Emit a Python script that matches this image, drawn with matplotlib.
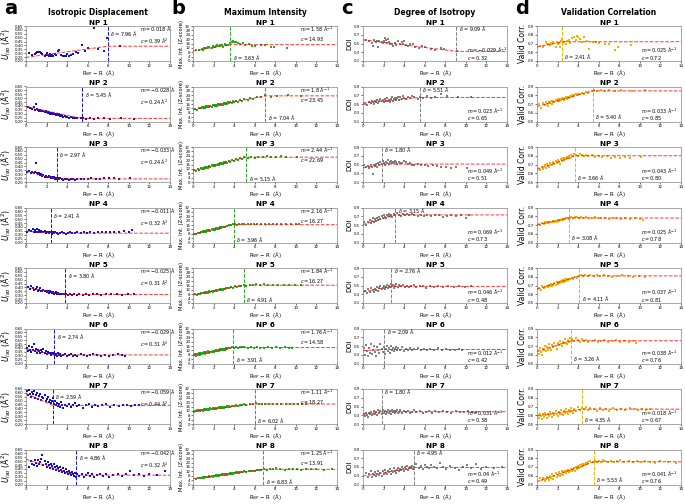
import matplotlib.pyplot as plt

# R_np - R (Å) for the atoms of each NP, shared by the four metrics
x_np1 = [0.3, 0.6, 0.9, 1.0, 1.1, 1.3, 1.4, 1.5, 1.6, 1.8, 1.9, 2.0, 2.1, 2.2, 2.3, 2.4, 2.5, 2.6, 2.8, 2.9,
         3.1, 3.2, 3.4, 3.6, 3.8, 3.9, 4.0, 4.2, 4.4, 4.6, 4.9, 5.1, 5.4, 5.7, 6.0, 6.6, 7.0, 7.6, 7.9, 9.1]
x_np2 = [0.2, 0.4, 0.6, 0.8, 0.9, 1.0, 1.1, 1.2, 1.3, 1.4, 1.5, 1.6, 1.7, 1.8, 1.9, 2.0, 2.1, 2.2, 2.3, 2.4,
         2.5, 2.6, 2.7, 2.8, 2.9, 3.0, 3.1, 3.2, 3.3, 3.4, 3.5, 3.6, 3.8, 3.9, 4.0, 4.2, 4.4, 4.6, 4.8, 5.0,
         5.3, 5.5, 5.8, 6.2, 6.6, 7.0, 7.6, 8.2, 9.2, 10.5]
x_np3 = [0.1, 0.3, 0.5, 0.6, 0.8, 0.9, 1.0, 1.1, 1.2, 1.3, 1.4, 1.5, 1.6, 1.7, 1.8, 1.9, 2.0, 2.1, 2.2, 2.3,
         2.4, 2.5, 2.6, 2.7, 2.8, 2.9, 3.0, 3.1, 3.2, 3.3, 3.5, 3.6, 3.8, 4.0, 4.2, 4.4, 4.6, 4.8, 5.0, 5.3,
         5.6, 6.0, 6.3, 6.8, 7.2, 7.6, 8.1, 8.6, 9.0, 10.1]
x_np4 = [0.1, 0.3, 0.5, 0.7, 0.8, 0.9, 1.0, 1.1, 1.2, 1.3, 1.4, 1.5, 1.6, 1.7, 1.8, 1.9, 2.0, 2.1, 2.2, 2.3,
         2.4, 2.5, 2.6, 2.7, 2.8, 3.0, 3.1, 3.3, 3.5, 3.7, 3.9, 4.1, 4.3, 4.5, 4.8, 5.0, 5.3, 5.6, 5.9, 6.2,
         6.6, 7.0, 7.4, 7.8, 8.2, 8.6, 9.0, 9.5, 10.3, 10.0]
x_np5 = [0.2, 0.4, 0.5, 0.7, 0.8, 1.0, 1.1, 1.2, 1.3, 1.4, 1.5, 1.6, 1.7, 1.8, 1.9, 2.0, 2.1, 2.2, 2.3, 2.4,
         2.5, 2.6, 2.7, 2.8, 2.9, 3.0, 3.1, 3.2, 3.4, 3.5, 3.7, 3.9, 4.1, 4.3, 4.5, 4.7, 5.0, 5.2, 5.5, 5.8,
         6.1, 6.5, 6.9, 7.3, 7.8, 8.3, 8.8, 9.3, 9.9, 10.5]
x_np6 = [0.1, 0.2, 0.3, 0.4, 0.5, 0.6, 0.7, 0.8, 0.9, 1.0, 1.1, 1.2, 1.3, 1.4, 1.5, 1.6, 1.7, 1.8, 1.9, 2.0,
         2.1, 2.2, 2.3, 2.4, 2.5, 2.6, 2.7, 2.8, 2.9, 3.0, 3.1, 3.2, 3.3, 3.4, 3.6, 3.8, 4.0, 4.2, 4.4, 4.6,
         4.8, 5.0, 5.3, 5.6, 5.9, 6.2, 6.5, 6.9, 7.3, 7.7, 8.1, 8.5, 8.9, 9.3, 9.6]
x_np7 = [0.1, 0.2, 0.3, 0.4, 0.5, 0.6, 0.7, 0.8, 0.9, 1.0, 1.1, 1.2, 1.3, 1.4, 1.5, 1.6, 1.7, 1.8, 1.9, 2.0,
         2.1, 2.2, 2.3, 2.4, 2.5, 2.6, 2.7, 2.8, 2.9, 3.0, 3.1, 3.2, 3.3, 3.4, 3.5, 3.6, 3.8, 4.0, 4.2, 4.4,
         4.6, 4.8, 5.0, 5.2, 5.5, 5.8, 6.1, 6.4, 6.7, 7.0, 7.4, 7.8, 8.2, 8.6, 9.0, 9.4, 9.8, 10.2, 10.6, 11.0]
x_np8 = [0.3, 0.5, 0.6, 0.8, 0.9, 1.0, 1.1, 1.2, 1.3, 1.4, 1.5, 1.6, 1.7, 1.8, 1.9, 2.0, 2.1, 2.2, 2.3, 2.4,
         2.5, 2.6, 2.7, 2.8, 2.9, 3.0, 3.1, 3.2, 3.3, 3.4, 3.5, 3.6, 3.7, 3.8, 3.9, 4.0, 4.1, 4.2, 4.3, 4.4,
         4.5, 4.6, 4.7, 4.8, 4.9, 5.0, 5.2, 5.4, 5.6, 5.8, 6.0, 6.2, 6.4, 6.6, 6.9, 7.2, 7.5, 7.8, 8.1, 8.5,
         8.9, 9.3, 9.7, 10.1, 10.5, 11.0, 11.5, 12.0, 12.7, 13.5]

# a) isotropic displacement U_iso (Å^2)
uiso_np1 = [0.30, 0.28, 0.29, 0.30, 0.31, 0.31, 0.32, 0.30, 0.29, 0.27, 0.28, 0.30, 0.28, 0.27, 0.29, 0.26, 0.28, 0.27, 0.29, 0.28,
            0.33, 0.34, 0.28, 0.27, 0.26, 0.27, 0.29, 0.27, 0.28, 0.29, 0.31, 0.30, 0.41, 0.33, 0.37, 0.63, 0.36, 0.33, 0.50, 0.39]
uiso_np2 = [0.38, 0.37, 0.36, 0.38, 0.35, 0.42, 0.36, 0.35, 0.34, 0.35, 0.34, 0.33, 0.34, 0.32, 0.33, 0.32, 0.31, 0.32, 0.30, 0.31,
            0.30, 0.31, 0.29, 0.30, 0.28, 0.29, 0.28, 0.29, 0.27, 0.28, 0.27, 0.26, 0.27, 0.26, 0.26, 0.25, 0.26, 0.25, 0.24, 0.25,
            0.24, 0.25, 0.23, 0.24, 0.23, 0.24, 0.24, 0.23, 0.24, 0.23]
uiso_np3 = [0.33, 0.34, 0.32, 0.33, 0.31, 0.33, 0.45, 0.32, 0.30, 0.31, 0.29, 0.30, 0.28, 0.29, 0.27, 0.28, 0.27, 0.26, 0.28, 0.26,
            0.25, 0.27, 0.25, 0.26, 0.24, 0.25, 0.24, 0.25, 0.24, 0.25, 0.24, 0.23, 0.24, 0.24, 0.23, 0.24, 0.24, 0.23, 0.24, 0.24,
            0.24, 0.24, 0.25, 0.24, 0.24, 0.25, 0.25, 0.25, 0.24, 0.25]
uiso_np4 = [0.34, 0.36, 0.35, 0.37, 0.34, 0.36, 0.33, 0.37, 0.34, 0.36, 0.33, 0.35, 0.34, 0.33, 0.35, 0.32, 0.34, 0.33, 0.32, 0.34,
            0.33, 0.31, 0.33, 0.32, 0.33, 0.32, 0.31, 0.32, 0.33, 0.32, 0.31, 0.32, 0.33, 0.32, 0.32, 0.33, 0.32, 0.33, 0.32, 0.33,
            0.32, 0.33, 0.34, 0.33, 0.33, 0.34, 0.33, 0.35, 0.36, 0.34]
uiso_np5 = [0.40, 0.38, 0.42, 0.39, 0.37, 0.38, 0.40, 0.36, 0.37, 0.39, 0.36, 0.35, 0.37, 0.35, 0.36, 0.34, 0.35, 0.33, 0.35, 0.34,
            0.33, 0.34, 0.32, 0.33, 0.34, 0.32, 0.33, 0.31, 0.32, 0.31, 0.32, 0.31, 0.30, 0.31, 0.30, 0.31, 0.30, 0.31, 0.30, 0.31,
            0.30, 0.31, 0.31, 0.30, 0.31, 0.32, 0.31, 0.30, 0.31, 0.32]
uiso_np6 = [0.40, 0.36, 0.43, 0.38, 0.35, 0.41, 0.37, 0.45, 0.36, 0.39, 0.34, 0.38, 0.36, 0.33, 0.37, 0.35, 0.39, 0.34, 0.36, 0.32,
            0.35, 0.33, 0.34, 0.31, 0.33, 0.32, 0.34, 0.31, 0.32, 0.30, 0.33, 0.31, 0.32, 0.30, 0.31, 0.32, 0.30, 0.31, 0.32, 0.30,
            0.31, 0.30, 0.32, 0.31, 0.30, 0.31, 0.32, 0.31, 0.30, 0.31, 0.30, 0.31, 0.32, 0.31, 0.30]
uiso_np7 = [0.62, 0.57, 0.64, 0.59, 0.55, 0.61, 0.58, 0.63, 0.54, 0.57, 0.60, 0.52, 0.56, 0.59, 0.51, 0.55, 0.53, 0.57, 0.49, 0.52,
            0.55, 0.48, 0.51, 0.47, 0.50, 0.53, 0.46, 0.49, 0.44, 0.47, 0.43, 0.46, 0.42, 0.48, 0.44, 0.41, 0.45, 0.43, 0.46, 0.42,
            0.44, 0.47, 0.43, 0.45, 0.41, 0.44, 0.46, 0.42, 0.45, 0.43, 0.44, 0.46, 0.42, 0.45, 0.43, 0.44, 0.45, 0.43, 0.44, 0.45]
uiso_np8 = [0.43, 0.50, 0.47, 0.45, 0.52, 0.48, 0.44, 0.51, 0.46, 0.49, 0.53, 0.58, 0.45, 0.50, 0.47, 0.43, 0.49, 0.45, 0.41, 0.47,
            0.44, 0.40, 0.46, 0.42, 0.39, 0.44, 0.41, 0.37, 0.43, 0.39, 0.36, 0.41, 0.38, 0.35, 0.40, 0.36, 0.33, 0.38, 0.35, 0.32,
            0.36, 0.33, 0.31, 0.35, 0.30, 0.33, 0.31, 0.34, 0.30, 0.32, 0.35, 0.31, 0.33, 0.30, 0.32, 0.34, 0.31, 0.33, 0.30, 0.32,
            0.34, 0.31, 0.33, 0.38, 0.32, 0.34, 0.31, 0.33, 0.32, 0.37]

# b) maximum intensity (Z-score)
maxint_np1 = [10.0, 10.5, 11.0, 10.5, 11.5, 12.0, 11.5, 12.5, 13.0, 12.0, 13.5, 12.5, 13.0, 14.0, 14.5, 13.5, 14.0, 15.0, 14.5, 13.0,
              15.5, 14.5, 15.0, 16.5, 17.0, 18.0, 17.5, 17.0, 16.5, 16.0, 16.5, 15.0, 15.5, 14.0, 13.5, 14.5, 15.0, 12.5, 13.0, 11.5]
maxint_np2 = [11.5, 10.8, 12.5, 11.9, 13.0, 12.2, 13.4, 12.6, 13.8, 12.9, 14.0, 13.2, 14.5, 13.6, 14.8, 15.3, 14.2, 15.2, 14.4, 15.8,
              14.9, 16.0, 15.2, 16.3, 15.5, 16.8, 15.9, 17.0, 16.2, 17.4, 16.6, 17.8, 17.1, 18.3, 17.6, 18.9, 18.2, 19.6, 19.0, 20.3,
              19.8, 21.2, 20.6, 22.3, 22.0, 23.9, 22.8, 23.0, 24.4, 23.6]
maxint_np3 = [10.8, 10.2, 11.6, 11.0, 12.4, 11.8, 13.0, 12.3, 13.5, 12.7, 14.0, 13.2, 14.6, 13.8, 15.1, 14.3, 15.6, 14.7, 16.0, 15.2,
              16.5, 15.8, 17.1, 16.2, 17.6, 16.8, 18.0, 17.3, 18.5, 17.8, 19.2, 18.4, 19.9, 19.3, 21.0, 20.1, 21.8, 21.1, 22.5, 22.0,
              23.3, 22.2, 23.0, 22.5, 23.4, 22.7, 22.9, 23.5, 22.6, 23.1]
maxint_np4 = [8.2, 7.6, 9.1, 8.7, 9.9, 9.2, 10.4, 9.7, 10.8, 10.0, 11.2, 10.5, 11.7, 10.9, 12.1, 11.4, 12.6, 11.8, 13.0, 12.3,
              13.4, 12.8, 13.9, 13.2, 14.3, 14.6, 13.9, 15.2, 15.6, 16.1, 16.6, 16.9, 16.4, 17.0, 16.6, 17.2, 16.8, 17.3, 16.9, 17.1,
              16.8, 17.2, 16.9, 16.6, 17.0, 16.7, 16.5, 16.8, 16.6, 16.9]
maxint_np5 = [7.9, 7.4, 8.6, 8.2, 9.0, 9.4, 8.8, 9.8, 9.2, 10.2, 9.6, 10.6, 10.0, 11.0, 10.3, 11.3, 10.7, 11.6, 11.0, 12.0,
              11.5, 12.4, 11.8, 12.8, 12.2, 13.2, 12.6, 13.6, 13.9, 13.3, 14.5, 14.1, 15.2, 14.6, 15.9, 15.3, 16.6, 16.0, 16.9, 16.4,
              17.2, 16.6, 17.0, 16.5, 16.9, 16.4, 16.7, 16.2, 16.6, 16.4]
maxint_np6 = [7.5, 8.6, 7.2, 8.9, 8.1, 9.4, 8.0, 9.6, 8.9, 9.2, 10.3, 9.1, 10.1, 9.5, 11.0, 10.0, 10.8, 10.5, 11.6, 10.6,
              11.2, 12.1, 11.0, 12.3, 11.8, 12.9, 12.0, 13.1, 12.5, 13.6, 12.8, 13.9, 13.3, 14.4, 14.0, 15.0, 14.6, 15.3, 14.4, 15.1,
              14.7, 15.4, 14.5, 14.9, 14.3, 15.2, 14.6, 14.1, 14.8, 14.4, 14.9, 14.3, 14.7, 14.2, 14.5]
maxint_np7 = [11.2, 12.3, 11.5, 12.6, 11.9, 12.8, 11.7, 12.5, 13.0, 12.2, 13.3, 12.6, 13.6, 12.8, 13.9, 13.1, 14.2, 13.4, 14.4, 13.6,
              14.7, 13.9, 15.0, 14.2, 15.2, 14.4, 15.5, 14.7, 15.7, 15.0, 16.0, 15.3, 16.2, 15.5, 16.5, 15.8, 16.8, 16.2, 17.1, 16.6,
              17.6, 17.0, 17.9, 17.4, 18.2, 17.9, 18.8, 18.0, 18.6, 17.9, 18.5, 18.0, 18.7, 18.1, 18.4, 18.0, 18.6, 18.2, 18.5, 18.3]
maxint_np8 = [5.2, 6.1, 5.6, 6.4, 5.9, 6.8, 6.2, 7.0, 6.5, 7.2, 6.7, 7.5, 6.9, 7.8, 7.2, 8.1, 7.5, 8.3, 7.7, 8.6,
              8.0, 8.9, 8.3, 9.2, 8.6, 9.4, 8.9, 9.7, 9.1, 10.0, 9.4, 10.2, 9.7, 10.5, 10.0, 10.8, 10.2, 11.0, 10.5, 11.3,
              10.8, 11.5, 11.0, 11.8, 11.2, 12.0, 11.7, 12.4, 12.1, 12.8, 12.4, 13.2, 12.9, 13.6, 14.3, 13.5, 14.6, 13.8, 15.2, 14.0,
              13.6, 14.4, 13.8, 14.2, 13.7, 14.5, 13.9, 14.1, 13.6, 13.8]

# c) degree of isotropy
doi_np1 = [0.57, 0.55, 0.52, 0.45, 0.57, 0.54, 0.55, 0.43, 0.56, 0.53, 0.51, 0.55, 0.63, 0.58, 0.52, 0.60, 0.54, 0.50, 0.48, 0.45,
           0.52, 0.47, 0.55, 0.50, 0.53, 0.49, 0.56, 0.46, 0.44, 0.49, 0.50, 0.43, 0.40, 0.45, 0.41, 0.38, 0.36, 0.40, 0.37, 0.33]
doi_np2 = [0.50, 0.47, 0.55, 0.52, 0.58, 0.54, 0.50, 0.57, 0.55, 0.60, 0.53, 0.58, 0.62, 0.56, 0.59, 0.54, 0.61, 0.58, 0.63, 0.57,
           0.60, 0.55, 0.62, 0.66, 0.58, 0.61, 0.64, 0.59, 0.63, 0.67, 0.60, 0.65, 0.62, 0.68, 0.64, 0.61, 0.66, 0.63, 0.69, 0.65,
           0.62, 0.67, 0.64, 0.68, 0.63, 0.66, 0.72, 0.68, 0.67, 0.66]
doi_np3 = [0.48, 0.44, 0.46, 0.41, 0.49, 0.45, 0.28, 0.50, 0.47, 0.52, 0.45, 0.53, 0.49, 0.55, 0.51, 0.57, 0.53, 0.48, 0.56, 0.54,
           0.60, 0.52, 0.55, 0.57, 0.53, 0.56, 0.54, 0.58, 0.55, 0.52, 0.56, 0.53, 0.54, 0.58, 0.55, 0.51, 0.53, 0.50, 0.49, 0.51,
           0.48, 0.50, 0.47, 0.48, 0.46, 0.45, 0.44, 0.43, 0.44, 0.43]
doi_np4 = [0.58, 0.49, 0.56, 0.62, 0.55, 0.60, 0.66, 0.57, 0.64, 0.60, 0.67, 0.62, 0.69, 0.64, 0.70, 0.66, 0.72, 0.68, 0.65, 0.73,
           0.70, 0.76, 0.71, 0.74, 0.69, 0.75, 0.72, 0.77, 0.74, 0.71, 0.76, 0.73, 0.75, 0.72, 0.76, 0.73, 0.70, 0.74, 0.71, 0.73,
           0.70, 0.72, 0.74, 0.69, 0.71, 0.73, 0.70, 0.72, 0.73, 0.67]
doi_np5 = [0.38, 0.33, 0.41, 0.36, 0.44, 0.39, 0.35, 0.43, 0.40, 0.46, 0.38, 0.44, 0.48, 0.41, 0.45, 0.50, 0.43, 0.47, 0.52, 0.45,
           0.49, 0.46, 0.54, 0.48, 0.51, 0.45, 0.50, 0.53, 0.47, 0.51, 0.48, 0.52, 0.46, 0.50, 0.47, 0.49, 0.52, 0.46, 0.48, 0.50,
           0.45, 0.49, 0.47, 0.50, 0.46, 0.48, 0.47, 0.49, 0.46, 0.48]
doi_np6 = [0.45, 0.30, 0.52, 0.38, 0.28, 0.46, 0.35, 0.55, 0.32, 0.42, 0.50, 0.36, 0.27, 0.48, 0.40, 0.33, 0.54, 0.44, 0.37, 0.47,
           0.31, 0.43, 0.51, 0.39, 0.45, 0.35, 0.49, 0.41, 0.46, 0.38, 0.44, 0.48, 0.40, 0.45, 0.42, 0.47, 0.39, 0.44, 0.41, 0.46,
           0.40, 0.43, 0.45, 0.41, 0.44, 0.40, 0.43, 0.42, 0.45, 0.41, 0.43, 0.40, 0.42, 0.44, 0.41]
doi_np7 = [0.33, 0.29, 0.36, 0.31, 0.27, 0.35, 0.32, 0.38, 0.30, 0.34, 0.40, 0.33, 0.37, 0.31, 0.41, 0.35, 0.39, 0.34, 0.42, 0.36,
           0.40, 0.33, 0.38, 0.43, 0.36, 0.39, 0.34, 0.41, 0.37, 0.40, 0.35, 0.39, 0.42, 0.36, 0.38, 0.41, 0.35, 0.39, 0.37, 0.40,
           0.36, 0.38, 0.41, 0.37, 0.39, 0.35, 0.38, 0.40, 0.36, 0.39, 0.37, 0.40, 0.38, 0.36, 0.39, 0.37, 0.38, 0.40, 0.37, 0.38]
doi_np8 = [0.36, 0.28, 0.33, 0.40, 0.27, 0.34, 0.31, 0.38, 0.29, 0.35, 0.42, 0.32, 0.37, 0.30, 0.40, 0.34, 0.43, 0.36, 0.33, 0.41,
           0.38, 0.45, 0.35, 0.42, 0.39, 0.47, 0.40, 0.37, 0.44, 0.48, 0.41, 0.46, 0.43, 0.50, 0.45, 0.42, 0.49, 0.46, 0.52, 0.44,
           0.48, 0.51, 0.47, 0.53, 0.45, 0.50, 0.56, 0.48, 0.52, 0.46, 0.54, 0.50, 0.47, 0.55, 0.51, 0.48, 0.60, 0.49, 0.46, 0.52,
           0.48, 0.44, 0.50, 0.55, 0.47, 0.57, 0.45, 0.50, 0.48, 0.51]

# d) validation correlation
vc_np1 = [0.67, 0.66, 0.72, 0.69, 0.70, 0.68, 0.71, 0.70, 0.72, 0.66, 0.72, 0.70, 0.71, 0.66, 0.73, 0.75, 0.71, 0.72, 0.70, 0.73,
          0.74, 0.71, 0.76, 0.78, 0.74, 0.79, 0.77, 0.75, 0.72, 0.78, 0.73, 0.64, 0.72, 0.72, 0.71, 0.70, 0.69, 0.63, 0.66, 0.68]
vc_np2 = [0.70, 0.66, 0.71, 0.69, 0.72, 0.70, 0.68, 0.72, 0.71, 0.73, 0.70, 0.74, 0.72, 0.75, 0.73, 0.76, 0.74, 0.76, 0.75, 0.77,
          0.76, 0.75, 0.77, 0.78, 0.76, 0.78, 0.77, 0.79, 0.78, 0.80, 0.79, 0.80, 0.81, 0.80, 0.82, 0.81, 0.83, 0.82, 0.84, 0.83,
          0.85, 0.86, 0.85, 0.86, 0.85, 0.86, 0.85, 0.86, 0.85, 0.86]
vc_np3 = [0.66, 0.64, 0.67, 0.65, 0.69, 0.66, 0.71, 0.68, 0.67, 0.72, 0.70, 0.69, 0.73, 0.71, 0.74, 0.72, 0.75, 0.73, 0.71, 0.76,
          0.74, 0.77, 0.75, 0.78, 0.76, 0.79, 0.77, 0.80, 0.78, 0.81, 0.80, 0.82, 0.81, 0.80, 0.82, 0.81, 0.80, 0.81, 0.80, 0.81,
          0.79, 0.80, 0.79, 0.80, 0.78, 0.79, 0.78, 0.79, 0.78, 0.79]
vc_np4 = [0.71, 0.70, 0.72, 0.71, 0.73, 0.72, 0.73, 0.72, 0.74, 0.73, 0.74, 0.73, 0.75, 0.74, 0.75, 0.74, 0.76, 0.75, 0.76, 0.76,
          0.77, 0.76, 0.77, 0.77, 0.78, 0.78, 0.77, 0.79, 0.78, 0.79, 0.79, 0.78, 0.79, 0.78, 0.79, 0.78, 0.78, 0.79, 0.78, 0.78,
          0.78, 0.77, 0.78, 0.78, 0.77, 0.78, 0.77, 0.78, 0.76, 0.77]
vc_np5 = [0.67, 0.65, 0.69, 0.67, 0.68, 0.70, 0.68, 0.71, 0.69, 0.72, 0.70, 0.71, 0.73, 0.71, 0.74, 0.72, 0.74, 0.73, 0.75, 0.74,
          0.76, 0.74, 0.77, 0.75, 0.77, 0.76, 0.78, 0.77, 0.79, 0.78, 0.80, 0.79, 0.81, 0.82, 0.81, 0.82, 0.81, 0.82, 0.81, 0.82,
          0.81, 0.82, 0.81, 0.80, 0.81, 0.82, 0.81, 0.80, 0.81, 0.80]
vc_np6 = [0.66, 0.61, 0.68, 0.63, 0.60, 0.67, 0.65, 0.70, 0.64, 0.69, 0.66, 0.72, 0.68, 0.65, 0.71, 0.69, 0.74, 0.70, 0.67, 0.73,
          0.71, 0.76, 0.72, 0.70, 0.75, 0.73, 0.78, 0.74, 0.72, 0.77, 0.75, 0.79, 0.76, 0.78, 0.76, 0.79, 0.77, 0.75, 0.78, 0.76,
          0.77, 0.75, 0.76, 0.77, 0.75, 0.76, 0.77, 0.75, 0.76, 0.77, 0.75, 0.76, 0.75, 0.76, 0.74]
vc_np7 = [0.60, 0.57, 0.62, 0.59, 0.56, 0.61, 0.58, 0.63, 0.60, 0.57, 0.62, 0.59, 0.64, 0.61, 0.58, 0.63, 0.60, 0.65, 0.62, 0.59,
          0.64, 0.61, 0.66, 0.62, 0.60, 0.65, 0.63, 0.67, 0.64, 0.61, 0.66, 0.64, 0.68, 0.65, 0.63, 0.67, 0.65, 0.69, 0.66, 0.68,
          0.67, 0.69, 0.66, 0.68, 0.67, 0.65, 0.68, 0.66, 0.67, 0.65, 0.68, 0.66, 0.67, 0.66, 0.68, 0.67, 0.66, 0.67, 0.66, 0.67]
vc_np8 = [0.57, 0.55, 0.58, 0.54, 0.56, 0.59, 0.57, 0.55, 0.60, 0.58, 0.62, 0.56, 0.60, 0.63, 0.59, 0.61, 0.64, 0.60, 0.62, 0.65,
          0.61, 0.64, 0.66, 0.63, 0.65, 0.67, 0.64, 0.66, 0.68, 0.65, 0.67, 0.69, 0.66, 0.70, 0.68, 0.71, 0.69, 0.72, 0.70, 0.73,
          0.71, 0.74, 0.72, 0.75, 0.73, 0.76, 0.77, 0.76, 0.77, 0.76, 0.77, 0.76, 0.78, 0.77, 0.76, 0.77, 0.76, 0.77, 0.78, 0.76,
          0.77, 0.76, 0.77, 0.76, 0.77, 0.76, 0.75, 0.77, 0.76, 0.75]

# fitted segmented model: slope m up to delta, plateau c after
uiso_m = [0.018, -0.028, -0.033, -0.011, -0.025, -0.029, -0.059, -0.042]
uiso_c = [0.39, 0.24, 0.24, 0.32, 0.31, 0.31, 0.44, 0.32]
uiso_d = [7.96, 5.45, 2.97, 2.41, 3.80, 2.74, 2.59, 4.86]
maxint_m = [1.58, 1.80, 2.44, 2.16, 1.84, 1.76, 1.11, 1.25]
maxint_c = [14.93, 23.45, 22.69, 16.27, 16.27, 14.58, 18.27, 13.91]
maxint_d = [3.63, 7.04, 5.15, 3.96, 4.91, 3.91, 6.02, 6.83]
doi_m = [-0.029, 0.023, 0.049, 0.069, 0.046, 0.012, 0.031, 0.040]
doi_c = [0.32, 0.65, 0.51, 0.73, 0.48, 0.42, 0.38, 0.49]
doi_d = [9.09, 5.51, 1.80, 3.15, 2.76, 2.09, 1.80, 4.95]
vc_m = [0.025, 0.033, 0.043, 0.025, 0.037, 0.038, 0.018, 0.041]
vc_c = [0.72, 0.85, 0.80, 0.78, 0.81, 0.76, 0.67, 0.76]
vc_d = [2.41, 5.40, 3.66, 3.08, 4.11, 3.26, 4.35, 5.53]

xs = [x_np1, x_np2, x_np3, x_np4, x_np5, x_np6, x_np7, x_np8]
columns = [
    dict(letter='a', title='Isotropic Displacement', ylabel='$U_{iso}$ (Å$^2$)', color='#1010d0',
         ys=[uiso_np1, uiso_np2, uiso_np3, uiso_np4, uiso_np5, uiso_np6, uiso_np7, uiso_np8],
         m=uiso_m, c=uiso_c, d=uiso_d, ylim=(0.20, 0.65),
         yticks=[0.20, 0.25, 0.30, 0.35, 0.40, 0.45, 0.50, 0.55, 0.60, 0.65], fmt='%.2f',
         munit=' Å', cunit=' Å$^2$', ylsize=5.5),
    dict(letter='b', title='Maximum Intensity', ylabel='Max. Int. (Z-score)', color='#22b022',
         ys=[maxint_np1, maxint_np2, maxint_np3, maxint_np4, maxint_np5, maxint_np6, maxint_np7, maxint_np8],
         m=maxint_m, c=maxint_c, d=maxint_d, ylim=(0, 32),
         yticks=[0, 4, 8, 12, 16, 20, 24, 28, 32], fmt='%d',
         munit=' Å$^{-1}$', cunit='', ylsize=3.8),
    dict(letter='c', title='Degree of Isotropy', ylabel='DOI', color='#808080',
         ys=[doi_np1, doi_np2, doi_np3, doi_np4, doi_np5, doi_np6, doi_np7, doi_np8],
         m=doi_m, c=doi_c, d=doi_d, ylim=(0.1, 0.9),
         yticks=[0.1, 0.3, 0.5, 0.7, 0.9], fmt='%.1f',
         munit=' Å$^{-1}$', cunit='', ylsize=5),
    dict(letter='d', title='Validation Correlation', ylabel='Valid Corr.', color='#f0b400',
         ys=[vc_np1, vc_np2, vc_np3, vc_np4, vc_np5, vc_np6, vc_np7, vc_np8],
         m=vc_m, c=vc_c, d=vc_d, ylim=(0.5, 0.9),
         yticks=[0.5, 0.6, 0.7, 0.8, 0.9], fmt='%.1f',
         munit=' Å$^{-1}$', cunit='', ylsize=5.5),
]

W, H = 685, 504
fig = plt.figure(figsize=(W / 100, H / 100), dpi=100)
lefts = [26, 193, 363, 537]
axw, axh, top0, pitch = 144, 35, 26, 60.5

for j, col in enumerate(columns):
    fig.text((lefts[j] - 22) / W, 1 - 9 / H, col['letter'], fontsize=14, fontweight='bold', va='center')
    fig.text((lefts[j] + axw / 2) / W, 1 - 12.5 / H, col['title'], fontsize=5.5, fontweight='bold',
             ha='center', va='center')
    for i in range(8):
        top = top0 + pitch * i
        ax = fig.add_axes([lefts[j] / W, 1 - (top + axh) / H, axw / W, axh / H])
        x = xs[i]
        y = col['ys'][i]
        n = min(len(x), len(y))
        ax.scatter(x[:n], y[:n], s=3, marker='s', color=col['color'], linewidths=0, zorder=3)
        m, c, d = col['m'][i], col['c'][i], col['d'][i]
        ax.plot([0, d, 14], [c - m * d, c, c], ls='--', color='red', lw=0.7, alpha=0.8, zorder=4)
        ax.axvline(d, ls='--', color=col['color'], lw=0.7, zorder=2)
        ax.set_xlim(0, 14)
        ax.set_ylim(*col['ylim'])
        ax.set_xticks(range(0, 15, 2))
        ax.set_yticks(col['yticks'])
        ax.yaxis.set_major_formatter(plt.FormatStrFormatter(col['fmt']))
        ax.tick_params(labelsize=2.8, length=1.2, width=0.4, pad=0.8)
        for sp in ax.spines.values():
            sp.set_color('#999999')
            sp.set_linewidth(0.6)
        ax.set_title(f'NP {i + 1}', fontsize=5.2, fontweight='bold', pad=1.0)
        ax.set_xlabel('R$_{NP}$ − R  (Å)', fontsize=3.8, labelpad=0.5)
        ax.set_ylabel(col['ylabel'], fontsize=col['ylsize'], labelpad=1)

        mtxt = f'$m = {m}$' + col['munit']
        ctxt = f'$c = {c:.2f}$' + col['cunit']
        dtxt = f'$\\delta$ = {d:.2f} Å'
        fs = 3.5
        xd = (d + 0.25) / 14
        if j == 0:
            ax.text(0.79, 0.92, mtxt, transform=ax.transAxes, fontsize=fs, va='center')
            ax.text(0.79, 0.55, ctxt, transform=ax.transAxes, fontsize=fs, va='center')
            ax.text(xd, 0.78, dtxt, transform=ax.transAxes, fontsize=fs, va='center')
        elif j == 1:
            ax.text(0.74, 0.89, mtxt, transform=ax.transAxes, fontsize=fs, va='center')
            ax.text(0.74, 0.62, ctxt, transform=ax.transAxes, fontsize=fs, va='center')
            ax.text(xd, 0.1, dtxt, transform=ax.transAxes, fontsize=fs, va='center')
        elif j == 2:
            ax.text(xd, 0.92, dtxt, transform=ax.transAxes, fontsize=fs, va='center')
            ax.text(0.72, 0.30, mtxt, transform=ax.transAxes, fontsize=fs, va='center')
            ax.text(0.72, 0.10, ctxt, transform=ax.transAxes, fontsize=fs, va='center')
        else:
            ax.text(xd, 0.14, dtxt, transform=ax.transAxes, fontsize=fs, va='center')
            ax.text(0.72, 0.30, mtxt, transform=ax.transAxes, fontsize=fs, va='center')
            ax.text(0.72, 0.10, ctxt, transform=ax.transAxes, fontsize=fs, va='center')

fig.savefig('out.png', dpi=100)
